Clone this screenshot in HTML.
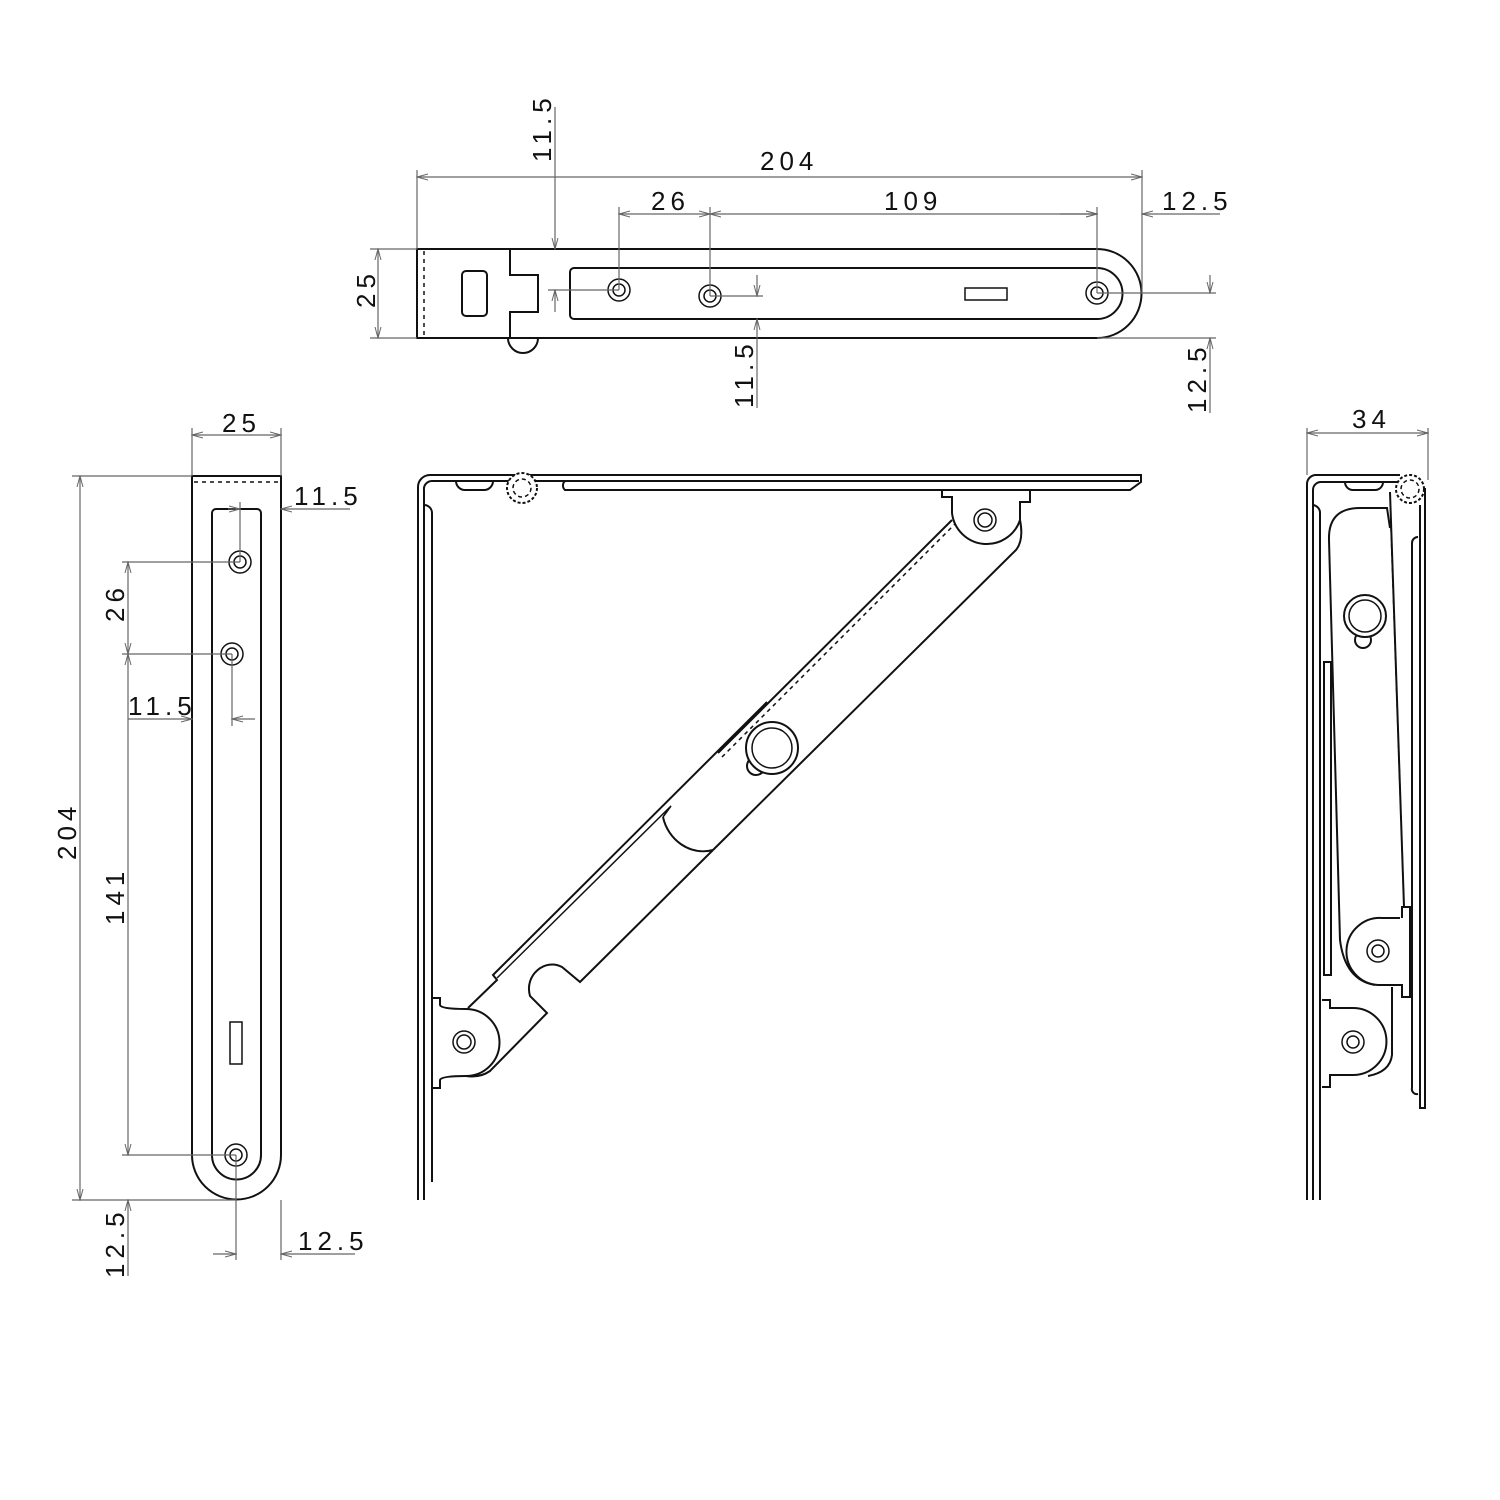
<!DOCTYPE html>
<html><head><meta charset="utf-8"><style>
html,body{margin:0;padding:0;background:#fff}
svg{display:block}
.o{fill:none;stroke:#111;stroke-width:2}
.t{fill:none;stroke:#111;stroke-width:1.5}
.d{fill:none;stroke:#666;stroke-width:1.2}
.ds{fill:none;stroke:#111;stroke-width:1.5;stroke-dasharray:4 4}
.w{fill:#fff;stroke:#111;stroke-width:2}
text{font-family:"Liberation Sans",sans-serif;font-size:26px;fill:#111;letter-spacing:5px}
</style></head><body>
<svg width="1500" height="1500" viewBox="0 0 1500 1500" xmlns="http://www.w3.org/2000/svg">
<defs>
<marker id="a" markerWidth="12" markerHeight="8" refX="11" refY="4" orient="auto-start-reverse" markerUnits="userSpaceOnUse">
<path d="M0,1 L11,4 L0,7" fill="none" stroke="#666" stroke-width="1"/></marker>
</defs>

<!-- ===== TOP VIEW ===== -->
<path class="o" d="M417,249 H1097 A44.5,44.5 0 0 1 1097,338 H417 Z"/>
<line class="ds" x1="424" y1="251" x2="424" y2="336"/>
<path class="o" d="M510,249 V275 H538 V312 H510 V338"/>
<path class="o" d="M508,338 A15,15 0 0 0 538,338"/>
<rect class="o" x="462" y="271" width="25" height="45" rx="4"/>
<path class="o" d="M574,268 H1097 A25.5,25.5 0 0 1 1097,319 H574 A4,4 0 0 1 570,315 V272 A4,4 0 0 1 574,268 Z"/>
<circle class="t" cx="619" cy="290" r="11"/><circle class="t" cx="619" cy="290" r="6"/>
<circle class="t" cx="710" cy="296" r="11"/><circle class="t" cx="710" cy="296" r="6"/>
<circle class="t" cx="1097" cy="293" r="11"/><circle class="t" cx="1097" cy="293" r="6"/>
<rect class="t" x="965" y="288" width="42" height="12"/>
<!-- dims top -->
<line class="d" x1="417" y1="170" x2="417" y2="249"/>
<line class="d" x1="1142" y1="170" x2="1142" y2="293"/>
<line class="d" x1="417" y1="177" x2="1142" y2="177" marker-start="url(#a)" marker-end="url(#a)"/>
<text x="760" y="170">204</text>
<line class="d" x1="619" y1="207" x2="619" y2="290"/>
<line class="d" x1="710" y1="207" x2="710" y2="296"/>
<line class="d" x1="1097" y1="207" x2="1097" y2="293"/>
<line class="d" x1="619" y1="214" x2="710" y2="214" marker-start="url(#a)" marker-end="url(#a)"/>
<line class="d" x1="710" y1="214" x2="1097" y2="214" marker-start="url(#a)" marker-end="url(#a)"/>
<line class="d" x1="1060" y1="214" x2="1097" y2="214" marker-end="url(#a)"/>
<line class="d" x1="1220" y1="214" x2="1142" y2="214" marker-end="url(#a)"/>
<text x="651" y="210">26</text>
<text x="884" y="210">109</text>
<text x="1162" y="210">12.5</text>
<line class="d" x1="555" y1="107" x2="555" y2="249" marker-end="url(#a)"/>
<line class="d" x1="555" y1="312" x2="555" y2="290" marker-end="url(#a)"/>
<line class="d" x1="548" y1="290" x2="619" y2="290"/>
<text transform="translate(551,162) rotate(-90)">11.5</text>
<line class="d" x1="757" y1="275" x2="757" y2="296" marker-end="url(#a)"/>
<line class="d" x1="757" y1="408" x2="757" y2="319" marker-end="url(#a)"/>
<line class="d" x1="710" y1="296" x2="763" y2="296"/>
<text transform="translate(753,408) rotate(-90)">11.5</text>
<line class="d" x1="370" y1="249" x2="417" y2="249"/>
<line class="d" x1="370" y1="338" x2="417" y2="338"/>
<line class="d" x1="378" y1="249" x2="378" y2="338" marker-start="url(#a)" marker-end="url(#a)"/>
<text transform="translate(375,308) rotate(-90)">25</text>
<line class="d" x1="1097" y1="293" x2="1216" y2="293"/>
<line class="d" x1="1097" y1="338" x2="1216" y2="338"/>
<line class="d" x1="1210" y1="275" x2="1210" y2="293" marker-end="url(#a)"/>
<line class="d" x1="1210" y1="413" x2="1210" y2="338" marker-end="url(#a)"/>
<text transform="translate(1206,413) rotate(-90)">12.5</text>

<!-- ===== LEFT VIEW ===== -->
<path class="o" d="M192,476 H281 V1155 A44.5,44.5 0 0 1 192,1155 Z"/>
<line class="ds" x1="194" y1="482" x2="279" y2="482"/>
<path class="o" d="M216,509 H257 A4,4 0 0 1 261,513 V1155 A24.5,24.5 0 0 1 212,1155 V513 A4,4 0 0 1 216,509 Z"/>
<circle class="t" cx="240" cy="562" r="11"/><circle class="t" cx="240" cy="562" r="6"/>
<circle class="t" cx="232" cy="654" r="11"/><circle class="t" cx="232" cy="654" r="6"/>
<circle class="t" cx="236" cy="1155" r="11"/><circle class="t" cx="236" cy="1155" r="6"/>
<rect class="t" x="230" y="1022" width="12" height="42"/>
<line class="d" x1="192" y1="428" x2="192" y2="476"/>
<line class="d" x1="281" y1="428" x2="281" y2="476"/>
<line class="d" x1="192" y1="435" x2="281" y2="435" marker-start="url(#a)" marker-end="url(#a)"/>
<text x="222" y="432">25</text>
<line class="d" x1="72" y1="476" x2="192" y2="476"/>
<line class="d" x1="72" y1="1200" x2="236" y2="1200"/>
<line class="d" x1="80" y1="476" x2="80" y2="1200" marker-start="url(#a)" marker-end="url(#a)"/>
<text transform="translate(76,860) rotate(-90)">204</text>
<line class="d" x1="240" y1="502" x2="240" y2="562"/>
<line class="d" x1="350" y1="509" x2="281" y2="509" marker-end="url(#a)"/>
<line class="d" x1="228" y1="509" x2="240" y2="509" marker-end="url(#a)"/>
<text x="294" y="505">11.5</text>
<line class="d" x1="122" y1="562" x2="240" y2="562"/>
<line class="d" x1="122" y1="654" x2="232" y2="654"/>
<line class="d" x1="128" y1="562" x2="128" y2="654" marker-start="url(#a)" marker-end="url(#a)"/>
<text transform="translate(124,622) rotate(-90)">26</text>
<line class="d" x1="232" y1="654" x2="232" y2="726"/>
<line class="d" x1="128" y1="719" x2="192" y2="719" marker-end="url(#a)"/>
<line class="d" x1="255" y1="719" x2="232" y2="719" marker-end="url(#a)"/>
<text x="128" y="715">11.5</text>
<line class="d" x1="122" y1="1155" x2="236" y2="1155"/>
<line class="d" x1="128" y1="654" x2="128" y2="1155" marker-start="url(#a)" marker-end="url(#a)"/>
<text transform="translate(124,925) rotate(-90)">141</text>
<line class="d" x1="128" y1="1276" x2="128" y2="1200" marker-end="url(#a)"/>
<text transform="translate(124,1278) rotate(-90)">12.5</text>
<line class="d" x1="236" y1="1155" x2="236" y2="1260"/>
<line class="d" x1="281" y1="1200" x2="281" y2="1260"/>
<line class="d" x1="213" y1="1254" x2="236" y2="1254" marker-end="url(#a)"/>
<line class="d" x1="355" y1="1254" x2="281" y2="1254" marker-end="url(#a)"/>
<text x="298" y="1250">12.5</text>

<!-- ===== MAIN VIEW ===== -->
<path class="o" d="M418,1200 V487 A12,12 0 0 1 430,475 H1141 V482 L1130,490 H565 A6,6 0 0 1 565,481"/>
<path class="o" d="M424,1200 V490 A8,8 0 0 1 432,481 H1139"/>
<path class="o" d="M424,505 A8,8 0 0 1 432,513 V1182"/>
<path class="o" d="M456,481 A9,9 0 0 0 465,490 H484 A9,9 0 0 0 493,481"/>
<circle cx="522" cy="488" r="15" fill="#fff" stroke="#111" stroke-width="2" stroke-dasharray="3 2"/>
<circle cx="522" cy="488" r="9" fill="none" stroke="#111" stroke-width="1.5" stroke-dasharray="4 3"/>
<!-- brace -->
<path class="o" d="M433,998 H440 V1005 Q441,1009 466,1009 A33,33 0 0 1 466,1076 Q441,1076 440,1080 V1088 H433"/>
<path class="o" d="M466,1076 Q480,1078 490,1071 L547,1013 L530,996 C524,975 545,958 562,967 L580,982 L713,850"/>
<path class="o" d="M468,1008 L497,980 L493,975 L767,702"/>
<path class="t" d="M497,978 L671,806 L663,817"/>
<path class="o" d="M713,850 C690,856 668,840 663,817"/>
<path class="o" d="M713,850 L1016,550 Q1024,540 1020,520"/>
<path class="o" d="M718,753 L952,520"/>
<line class="ds" x1="722" y1="757" x2="955" y2="524"/>
<path class="o" d="M942,490 V497 H952 V513 A35,35 0 0 0 1020,520 V502 H1030 V490"/>
<circle class="t" cx="985" cy="520" r="11"/><circle class="t" cx="985" cy="520" r="7"/>
<circle class="t" cx="464" cy="1042" r="11"/><circle class="t" cx="464" cy="1042" r="7"/>
<circle class="w" cx="756" cy="766" r="9"/>
<circle class="w" cx="772" cy="748" r="26"/>
<circle class="t" cx="772" cy="748" r="20"/>

<!-- ===== RIGHT VIEW ===== -->
<path class="o" d="M1307,1200 V484 A9,9 0 0 1 1316,475 H1400"/>
<path class="o" d="M1313,1200 V490 A8,8 0 0 1 1321,482 H1400"/>
<path class="o" d="M1320,1200 V512 A8,8 0 0 0 1313,505"/>
<path class="o" d="M1345,482 A8,8 0 0 0 1353,490 H1375 A8,8 0 0 0 1383,482"/>
<path class="o" d="M1425,488 V1108 H1420 V505"/>
<path class="o" d="M1418,537 A6,6 0 0 0 1412,543 V1088 A5,5 0 0 0 1418,1094"/>
<path class="o" d="M1329,540 Q1328,508 1360,508 H1387 L1390,528"/>
<path class="o" d="M1329,540 L1340,940 Q1345,980 1375,985"/>
<path class="o" d="M1390,492 L1404,907"/>
<line class="ds" x1="1391" y1="528" x2="1404" y2="905"/>
<path class="o" d="M1324,662 H1331 L1331,975 H1324 Z"/>
<path class="o" d="M1400,918 H1382 A33,33 0 0 0 1378,985 H1402 V997 H1410 V907 H1402 V918"/>
<circle class="t" cx="1378" cy="951" r="11"/><circle class="t" cx="1378" cy="951" r="6"/>
<path class="o" d="M1322,1000 H1330 V1008 H1353 A33,33 0 0 1 1353,1075 H1330 V1087 H1322"/>
<path class="o" d="M1392,987 V1055 Q1390,1072 1368,1076"/>
<circle class="t" cx="1353" cy="1042" r="11"/><circle class="t" cx="1353" cy="1042" r="6"/>
<circle class="w" cx="1363" cy="640" r="8"/>
<circle class="w" cx="1365" cy="616" r="21"/>
<circle class="t" cx="1365" cy="616" r="16"/>
<circle cx="1410" cy="489" r="14" fill="#fff" stroke="#111" stroke-width="2" stroke-dasharray="3 2"/>
<circle cx="1410" cy="489" r="9" fill="none" stroke="#111" stroke-width="1.5" stroke-dasharray="4 3"/>
<line class="d" x1="1307" y1="428" x2="1307" y2="475"/>
<line class="d" x1="1428" y1="428" x2="1428" y2="480"/>
<line class="d" x1="1307" y1="433" x2="1428" y2="433" marker-start="url(#a)" marker-end="url(#a)"/>
<text x="1352" y="428">34</text>
</svg>
</body></html>
